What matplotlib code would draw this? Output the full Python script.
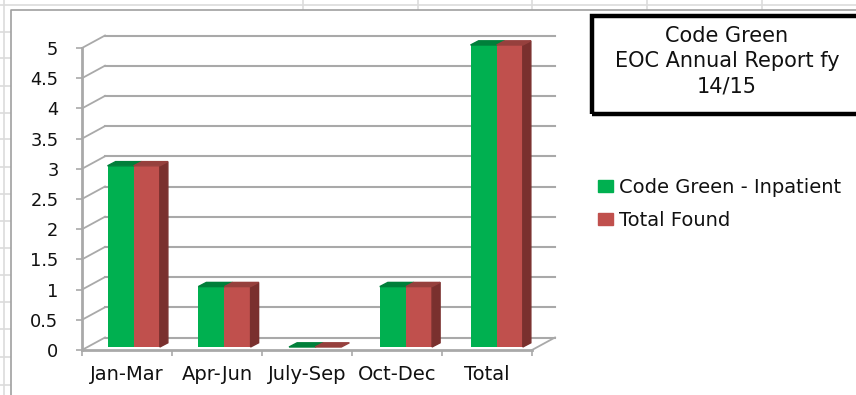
#!/usr/bin/env python3
"""Code Green EOC chart, Excel style fake 3D columns on a worksheet."""

import numpy as np
import matplotlib

matplotlib.use("Agg")
import matplotlib.pyplot as plt
from matplotlib.patches import Patch, Polygon, Rectangle
from matplotlib.lines import Line2D
from matplotlib.transforms import Affine2D

categories = ["Jan-Mar", "Apr-Jun", "July-Sep", "Oct-Dec", "Total"]
inpatient = [3, 1, 0, 1, 5]
total_found = [3, 1, 0, 1, 5]
y_ticks = [0, 0.5, 1, 1.5, 2, 2.5, 3, 3.5, 4, 4.5, 5]
y_labels = ["0", "0.5", "1", "1.5", "2", "2.5", "3", "3.5", "4", "4.5", "5"]
series_names = ["Code Green - Inpatient", "Total Found"]
title_lines = ["Code Green", "EOC Annual Report fy", "14/15"]

W, H = 856, 395
GREEN, GREEN_DARK = "#00b050", "#007f3a"
RED, RED_DARK = "#c0504d", "#7a302e"
GRID = "#a9a9a9"
SHEET = "#dcdcdc"
TEXT = "#111111"
BAR_W = 0.288


def px(x, y):
    # figure fraction from picture pixels (y down)
    return x / W, 1 - y / H


fig = plt.figure(figsize=(W / 100, H / 100), dpi=100)
ax = fig.add_axes([82 / W, 1 - 350 / H, 450 / W, 302 / H])
ax.set_xlim(0, 5)
ax.set_ylim(0, 5)

# worksheet lines behind the chart
for x in [303, 418, 532, 647, 762]:
    fig.add_artist(Line2D([x / W, x / W], [1 - 9 / H, 1], color=SHEET, lw=1.2))
for y in [32, 58, 86, 113, 139, 167, 194, 221, 248, 275, 302, 329, 357, 385]:
    fig.add_artist(Line2D([0, 10 / W], [1 - y / H, 1 - y / H], color=SHEET, lw=1.2))
fig.add_artist(Line2D([0, 1], [1 - 4.5 / H] * 2, color=SHEET, lw=1.2))
fig.add_artist(Line2D([4 / W, 4 / W], [0, 1], color=SHEET, lw=1.2))
fig.add_artist(Line2D([10.5 / W, 10.5 / W, 1], [0, 1 - 9.5 / H, 1 - 9.5 / H], color="#a0a0a0", lw=1.2))

# depth planes, offsets in pixels. Column spacing in the picture is a bit wider than the ticks.
back_tr = ax.transData + Affine2D().translate(23, 12.5)
bar_tr = ax.transData + Affine2D().translate(-82, 0).scale(1.0083, 1).translate(82 + 6.3, 3)

for v in y_ticks:
    ax.plot([0, 5], [v, v], color=GRID, lw=1.5, transform=back_tr, clip_on=False, zorder=1)
    ax.add_line(Line2D([0, 23 / 90], [v, v + 12.5 / 60.4], color=GRID, lw=1.3, clip_on=False, zorder=1))
ax.add_line(Line2D([5, 5 + 23 / 90], [0, 12.5 / 60.4], color=GRID, lw=1.3, clip_on=False, zorder=1))

# depth of a column in data units
dx, dy = 8 / 90, 4.2 / 60.4
for i, (a, b) in enumerate(zip(inpatient, total_found)):
    left = i + 0.5 - BAR_W
    mid = i + 0.5
    right = i + 0.5 + BAR_W
    if a > 0:
        ax.bar(left, a, BAR_W, align="edge", color=GREEN, transform=bar_tr, zorder=3, clip_on=False)
    if b > 0:
        ax.bar(mid, b, BAR_W, align="edge", color=RED, transform=bar_tr, zorder=3, clip_on=False)
        ax.add_patch(Polygon([(right, 0), (right + dx, dy), (right + dx, b + dy), (right, b)],
                             color=RED_DARK, transform=bar_tr, zorder=3, clip_on=False))
    ax.add_patch(Polygon([(left, a), (left + dx, a + dy), (mid + dx, a + dy), (mid, a)],
                         color=GREEN_DARK, transform=bar_tr, zorder=3, clip_on=False))
    ax.add_patch(Polygon([(mid, b), (mid + dx, b + dy), (right + dx, b + dy), (right, b)],
                         color="#96403d", transform=bar_tr, zorder=3, clip_on=False))

for side in ["top", "right"]:
    ax.spines[side].set_visible(False)
for side in ["left", "bottom"]:
    ax.spines[side].set_color(GRID)
    ax.spines[side].set_linewidth(2)
    ax.spines[side].set_zorder(2)

ax.set_yticks(y_ticks)
ax.set_yticklabels(y_labels, fontsize=12.8, color=TEXT)
ax.set_xticks(np.arange(6))
ax.set_xticklabels([])
ax.set_xticks(np.arange(5) + 0.5, minor=True)
ax.set_xticklabels(categories, minor=True, fontsize=14, color=TEXT)
ax.tick_params(axis="y", color=GRID, length=4.5, width=1.2, pad=12.5)
ax.tick_params(axis="x", which="major", color=GRID, length=4, width=1.2)
ax.tick_params(axis="x", which="minor", length=0, pad=11)

# title box, its right side runs off the picture
x0, y1 = px(592, 16)
x1, y0 = px(870, 114)
fig.add_artist(Rectangle((x0, y0), x1 - x0, y1 - y0, fill=False, ec="black", lw=3.2,
                         transform=fig.transFigure, clip_on=True))
for line, y in zip(title_lines, [36, 61, 86]):
    fx, fy = px(727, y)
    fig.text(fx, fy, line, ha="center", va="center", fontsize=15, color=TEXT)

handles = [Patch(color=GREEN, label=series_names[0]), Patch(color=RED, label=series_names[1])]
lx, ly = px(598, 178)
fig.legend(handles=handles, loc="upper left", bbox_to_anchor=(lx, ly), frameon=False,
           fontsize=14, handlelength=0.77, handleheight=0.51, handletextpad=0.3,
           labelspacing=0.72, borderaxespad=0, borderpad=0, labelcolor=TEXT)

fig.savefig("out.png", dpi=100)
